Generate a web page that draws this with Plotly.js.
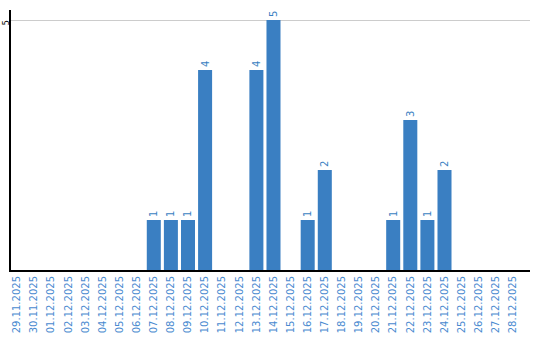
<!DOCTYPE html>
<html><head><meta charset="utf-8">
<script src="https://cdn.plot.ly/plotly-3.0.1.min.js"></script>
<style>html,body{margin:0;padding:0;background:#fff}#c{width:540px;height:340px}</style>
</head><body><div id="c"></div>
<script>
const dates = ["29.11.2025","30.11.2025","01.12.2025","02.12.2025","03.12.2025","04.12.2025","05.12.2025","06.12.2025","07.12.2025","08.12.2025","09.12.2025","10.12.2025","11.12.2025","12.12.2025","13.12.2025","14.12.2025","15.12.2025","16.12.2025","17.12.2025","18.12.2025","19.12.2025","20.12.2025","21.12.2025","22.12.2025","23.12.2025","24.12.2025","25.12.2025","26.12.2025","27.12.2025","28.12.2025"];
const counts = [0,0,0,0,0,0,0,0,1,1,1,4,0,0,4,5,0,1,2,0,0,0,1,3,1,2,0,0,0,0];
const labels = counts.map(v => v > 0 ? String(v) : "");
const blue = "#3a7fc2";
Plotly.newPlot("c", [{
  type: "bar", x: dates, y: counts, text: labels,
  textposition: "outside", textangle: -90, cliponaxis: false,
  textfont: {family: "DejaVu Sans, Verdana, sans-serif", size: 10, color: blue},
  marker: {color: blue}, hoverinfo: "none"
}], {
  width: 540, height: 340,
  margin: {l: 11, r: 10, t: 10, b: 70},
  paper_bgcolor: "#fff", plot_bgcolor: "#fff",
  bargap: 0.18, showlegend: false,
  font: {family: "DejaVu Sans, Verdana, sans-serif"},
  xaxis: {type: "category", range: [-0.35, 30], tickangle: -90,
    tickfont: {size: 10, color: "#4a8ad0"}, showgrid: false, ticks: "",
    showline: true, linecolor: "#000", linewidth: 2, zeroline: false, ticklen: 0},
  yaxis: {range: [0, 5.2], tickvals: [5], ticktext: ["5"], tickangle: -90,
    ticklabelstandoff: -3, ticklabelshift: 4,
    tickfont: {size: 8, color: "#000"}, showgrid: true, gridcolor: "#cccccc", gridwidth: 1,
    showline: true, linecolor: "#000", linewidth: 2, zeroline: false, ticks: ""}
}, {staticPlot: true});
</script></body></html>
